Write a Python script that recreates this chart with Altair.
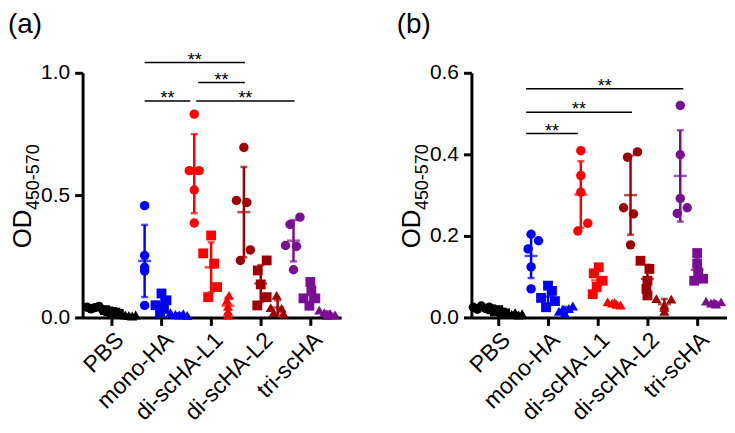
import altair as alt
import pandas as pd

groups = ["PBS", "mono-HA", "di-scHA-L1", "di-scHA-L2", "tri-scHA"]
colors = ["#000000", "#0000FF", "#FF0000", "#A00000", "#7A0F94"]
series = ["circle", "square", "triangle"]
shapes = ["circle", "square", "triangle-up"]
series_offset = [-0.34, 0.0, 0.34]

# ---------------- panel (a) ----------------
a_circle_vals = [
    [0.042, 0.035, 0.040, 0.045, 0.030],
    [0.457, 0.253, 0.205, 0.190, 0.049],
    [0.831, 0.600, 0.600, 0.521, 0.386],
    [0.695, 0.478, 0.470, 0.276, 0.233],
    [0.410, 0.380, 0.294, 0.290, 0.195],
]
a_circle_jit = [
    [-0.16, -0.08, 0.0, 0.08, 0.16],
    [0.0, 0.0, 0.0, 0.0, 0.0],
    [0.0, -0.1, 0.1, 0.0, 0.0],
    [0.0, -0.15, 0.06, 0.13, -0.07],
    [0.13, -0.07, -0.16, 0.06, 0.0],
]
a_square_vals = [
    [0.030, 0.025, 0.022, 0.020, 0.015],
    [0.098, 0.070, 0.050, 0.035, 0.018],
    [0.335, 0.262, 0.220, 0.124, 0.083],
    [0.233, 0.192, 0.135, 0.083, 0.049],
    [0.145, 0.110, 0.078, 0.078, 0.048],
]
a_square_jit = [
    [-0.14, -0.07, 0.0, 0.07, 0.14],
    [0.0, 0.1, -0.12, 0.05, -0.03],
    [0.0, -0.16, 0.06, 0.12, -0.06],
    [0.12, -0.06, 0.0, 0.12, -0.07],
    [0.0, 0.02, -0.14, 0.1, -0.02],
]
a_tri_vals = [
    [0.012, 0.010, 0.008, 0.006, 0.010],
    [0.020, 0.012, 0.010, 0.015, 0.008],
    [0.090, 0.070, 0.045, 0.025, 0.010],
    [0.090, 0.040, 0.037, 0.020, 0.015],
    [0.030, 0.020, 0.015, 0.010, 0.008],
]
a_tri_jit = [
    [-0.14, -0.07, 0.0, 0.07, 0.14],
    [-0.16, -0.06, 0.02, 0.1, 0.18],
    [0.02, -0.02, 0.0, 0.0, 0.0],
    [-0.02, -0.14, 0.08, -0.08, 0.12],
    [-0.16, -0.06, 0.06, 0.16, 0.0],
]
a_br_from = [0.66, 1.74, 0.66, 1.70]
a_br_to = [2.68, 2.68, 1.58, 3.68]
a_br_y = [1.042, 0.960, 0.885, 0.885]
a_yticks = [0.0, 0.5, 1.0]

# ---------------- panel (b) ----------------
b_circle_vals = [
    [0.025, 0.020, 0.028, 0.022, 0.025],
    [0.204, 0.188, 0.168, 0.124, 0.070],
    [0.409, 0.348, 0.307, 0.231, 0.212],
    [0.406, 0.393, 0.269, 0.254, 0.178],
    [0.520, 0.399, 0.292, 0.269, 0.255],
]
b_circle_jit = [
    [-0.16, -0.08, 0.0, 0.08, 0.16],
    [0.0, 0.15, -0.06, 0.0, 0.0],
    [0.0, 0.0, 0.0, 0.14, -0.06],
    [0.14, -0.06, -0.14, 0.06, 0.0],
    [0.0, 0.0, 0.0, 0.14, -0.06],
]
b_square_vals = [
    [0.020, 0.015, 0.018, 0.012, 0.010],
    [0.078, 0.065, 0.048, 0.040, 0.025],
    [0.123, 0.108, 0.090, 0.075, 0.057],
    [0.139, 0.119, 0.090, 0.070, 0.054],
    [0.158, 0.132, 0.110, 0.095, 0.090],
]
b_square_jit = [
    [-0.14, -0.07, 0.0, 0.07, 0.14],
    [0.0, 0.08, -0.14, 0.14, -0.04],
    [0.02, -0.08, 0.1, -0.02, -0.1],
    [-0.14, 0.04, 0.0, -0.02, 0.0],
    [0.0, 0.0, 0.02, 0.12, -0.06],
]
b_tri_vals = [
    [0.010, 0.008, 0.012, 0.006, 0.009],
    [0.010, 0.028, 0.020, 0.015, 0.022],
    [0.038, 0.035, 0.032, 0.030, 0.036],
    [0.046, 0.045, 0.030, 0.025, 0.015],
    [0.040, 0.035, 0.033, 0.038, 0.036],
]
b_tri_jit = [
    [-0.14, -0.07, 0.0, 0.07, 0.14],
    [0.0, 0.16, -0.04, -0.12, 0.08],
    [-0.14, -0.05, 0.04, 0.12, 0.0],
    [-0.16, 0.14, 0.0, 0.0, 0.0],
    [-0.16, -0.06, 0.04, 0.14, 0.0],
]
b_br_from = [0.56, 0.56, 0.56]
b_br_to = [3.72, 2.69, 1.60]
b_br_y = [0.561, 0.503, 0.451]
b_yticks = [0.0, 0.2, 0.4, 0.6]

sig_label = "**"
FONT = "Liberation Sans"


def build_df(vals_list, jit_list):
    rows = []
    for si, s in enumerate(series):
        for gi, g in enumerate(groups):
            for v, j in zip(vals_list[si][gi], jit_list[si][gi]):
                xc = gi + series_offset[si]
                rows.append({"group": g, "series": s, "xc": xc, "x": xc + j, "v": v})
    return pd.DataFrame(rows)


def panel(df, br_from, br_to, br_y, yticks, ymax, xdom, width, height, label):
    xaxis = alt.Axis(values=list(range(len(groups))),
                     labelExpr="%s[datum.value]" % str(groups),
                     title=None, labelAngle=315, labelAlign="right",
                     labelBaseline="top", labelFontSize=23, labelPadding=3,
                     labelOverlap=False, labelBound=False, labelFlush=False)
    yaxis = alt.Axis(values=yticks, format=".1f", title=None,
                     labelFontSize=21, labelPadding=5, labelOverlap=False,
                     labelFlush=False)
    xs = alt.Scale(domain=xdom, nice=False, zero=False)
    ys = alt.Scale(domain=[0, ymax], nice=False)
    col = alt.Color("group:N", scale=alt.Scale(domain=groups, range=colors), legend=None)

    base = alt.Chart(df)
    pts = base.mark_point(filled=True, opacity=1).encode(
        x=alt.X("x:Q", scale=xs, axis=xaxis),
        y=alt.Y("v:Q", scale=ys, axis=yaxis),
        color=col,
        shape=alt.Shape("series:N", scale=alt.Scale(domain=series, range=shapes), legend=None),
        size=alt.Size("series:N", scale=alt.Scale(domain=series, range=[90, 105, 100]), legend=None),
    )
    agg = base.transform_aggregate(
        m="mean(v)", sd="stdev(v)", groupby=["group", "series", "xc"]
    ).transform_calculate(lo="datum.m - datum.sd", hi="datum.m + datum.sd")
    xe = alt.X("xc:Q", scale=xs, axis=xaxis)
    bar = agg.mark_rule(strokeWidth=2.5).encode(
        x=xe, y=alt.Y("lo:Q", scale=ys, axis=yaxis), y2="hi:Q", color=col)
    cap_hi = agg.mark_tick(orient="horizontal", size=7, thickness=2.5).encode(
        x=xe, y=alt.Y("hi:Q", scale=ys, axis=yaxis), color=col)
    cap_lo = agg.mark_tick(orient="horizontal", size=7, thickness=2.5).encode(
        x=xe, y=alt.Y("lo:Q", scale=ys, axis=yaxis), color=col)
    mean = agg.mark_tick(orient="horizontal", size=13, thickness=2.5).encode(
        x=xe, y=alt.Y("m:Q", scale=ys, axis=yaxis), color=col)

    bdf = pd.DataFrame({"x1": br_from, "x2": br_to, "y": br_y,
                        "t": [sig_label] * len(br_y)})
    bdf["xm"] = (bdf["x1"] + bdf["x2"]) / 2
    br = alt.Chart(bdf).mark_rule(strokeWidth=1.5, color="black").encode(
        x=alt.X("x1:Q", scale=xs, axis=xaxis), x2="x2:Q",
        y=alt.Y("y:Q", scale=ys, axis=yaxis))
    st = alt.Chart(bdf).mark_text(fontSize=18, font=FONT, color="black",
                                  baseline="alphabetic", dy=3).encode(
        x=alt.X("xm:Q", scale=xs, axis=xaxis),
        y=alt.Y("y:Q", scale=ys, axis=yaxis), text="t:N")

    od = alt.Chart().mark_text(text="OD", angle=270, fontSize=26, font=FONT,
                               align="center", baseline="alphabetic").encode(
        x=alt.value(-52), y=alt.value(157))
    sub = alt.Chart().mark_text(text="450-570", angle=270, fontSize=18, font=FONT,
                                align="center", baseline="alphabetic").encode(
        x=alt.value(-44), y=alt.value(105))
    lab = alt.Chart().mark_text(text=label, fontSize=28, font=FONT,
                                align="left", baseline="top").encode(
        x=alt.value(-75), y=alt.value(-62))

    return alt.layer(pts, bar, cap_hi, cap_lo, mean, br, st, od, sub, lab).properties(
        width=width, height=height)


dfa = build_df([a_circle_vals, a_square_vals, a_tri_vals], [a_circle_jit, a_square_jit, a_tri_jit])
dfb = build_df([b_circle_vals, b_square_vals, b_tri_vals], [b_circle_jit, b_square_jit, b_tri_jit])

pa = panel(dfa, a_br_from, a_br_to, a_br_y, a_yticks, 1.0, [-0.59, 4.62], 260, 246, "(a)")
pb = panel(dfb, b_br_from, b_br_to, b_br_y, b_yticks, 0.6, [-0.54, 4.6], 257, 246, "(b)")

chart = alt.hconcat(pa, pb, spacing=56).properties(
    padding={"left": 0, "top": 2, "right": 0, "bottom": 0}
).configure_view(
    stroke=None
).configure_axis(
    domainColor="black", tickColor="black", labelColor="black", labelFont=FONT,
    domainWidth=3, tickWidth=3, tickSize=8, grid=False
)

chart.save("out.html", embed_options={"renderer": "svg", "actions": False})
